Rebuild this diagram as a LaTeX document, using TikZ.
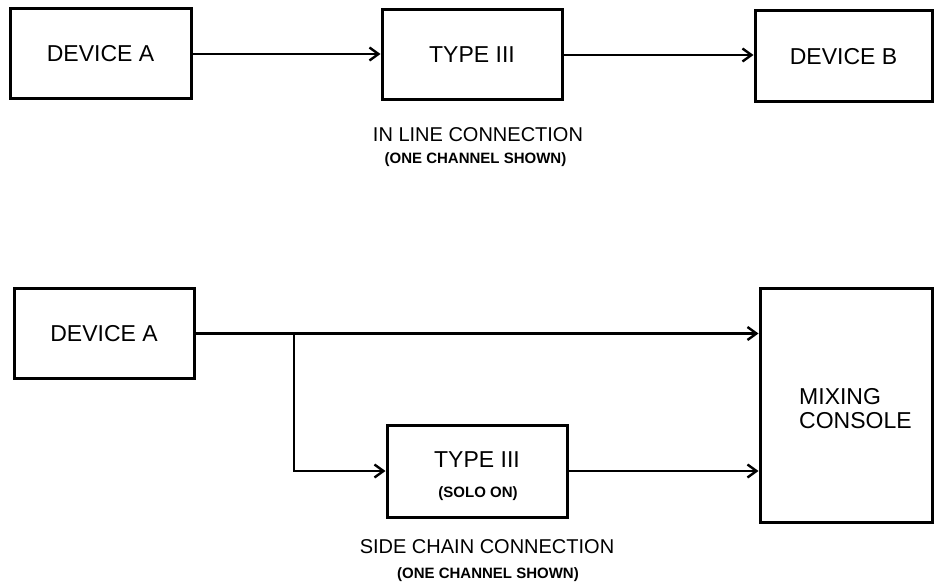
\documentclass[tikz,border=0pt]{standalone}
\usepackage{fontspec}
\setmainfont{Liberation Sans}
\usetikzlibrary{arrows.meta}
\begin{document}
\begin{tikzpicture}[x=1pt,y=-1pt,
  box/.style={draw,line width=3pt,inner sep=0pt,font=\fontsize{23}{26}\selectfont},
  big/.style={inner sep=0pt,font=\fontsize{23}{24}\selectfont},
  captxt/.style={inner sep=0pt,font=\fontsize{20}{24}\selectfont},
  subtxt/.style={inner sep=0pt,font=\bfseries\fontsize{15}{18}\selectfont},
  arr/.style={line width=2.8pt,-{Straight Barb[length=9pt,width=13pt,line width=2.4pt]}}]
\useasboundingbox (0,0) rectangle (934,583);
\fill[white] (0,0) rectangle (934,583);
% top: in line connection
\node[box,minimum width=181pt,minimum height=90pt] (devA) at (100.5,54) {DEVICE A};
\node[box,minimum width=180pt,minimum height=90pt] (t3) at (472,55) {TYPE III};
\node[box,minimum width=177pt,minimum height=91pt] (devB) at (843.5,56.5) {\raisebox{-3pt}{DEVICE B}};
\draw[arr] (devA.east) -- (devA.east -| t3.west);
\draw[arr] (t3.east) -- (t3.east -| devB.west);
\node[captxt] (inl) at (478,135) {IN LINE CONNECTION};
\node[subtxt] (inlsub) at (475.5,160) {(ONE CHANNEL SHOWN)};
% bottom: side chain connection
\node[box,minimum width=180pt,minimum height=90pt] (devA2) at (104,333.5) {DEVICE A};
\node[box,minimum width=172pt,minimum height=234pt] (console) at (846,405) {};
\node[big,anchor=west,align=left] (constext) at (799,409) {MIXING\\CONSOLE};
\node[box,minimum width=180pt,minimum height=92pt] (t3b) at (477,471) {};
\node[big] (t3btext) at (477,460) {TYPE III};
\node[subtxt] (solo) at (478,493.5) {(SOLO ON)};
\coordinate (split) at (294,333.5);
\draw[arr] (devA2.east) -- (devA2.east -| console.west);
\draw[arr] (split) |- (t3b.west);
\draw[arr] (t3b.east) -- (t3b.east -| console.west);
\node[captxt] (sc) at (487,547) {SIDE CHAIN CONNECTION};
\node[subtxt] (scsub) at (488,575) {(ONE CHANNEL SHOWN)};
\end{tikzpicture}
\end{document}
